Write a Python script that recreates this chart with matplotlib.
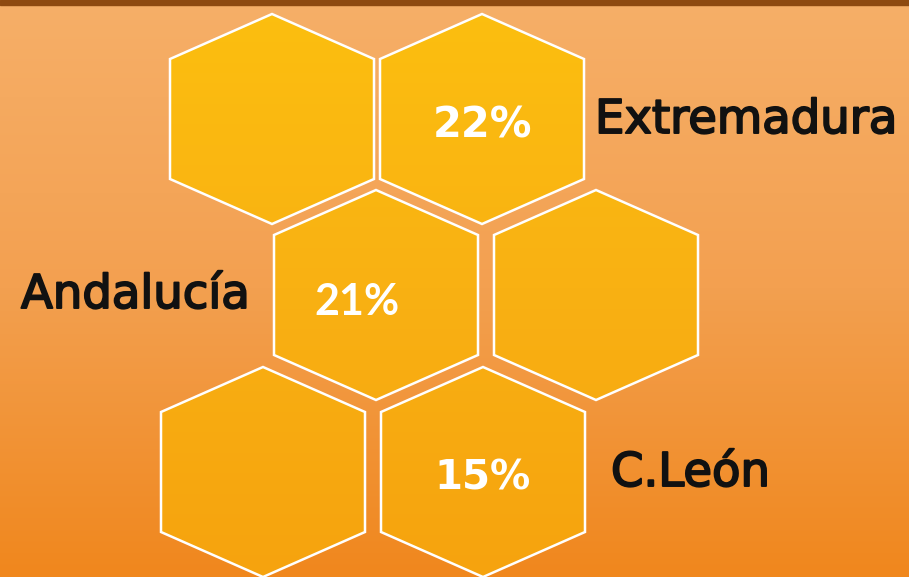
import numpy as np
import matplotlib.pyplot as plt
import matplotlib.patheffects as pe
from matplotlib.patches import Polygon
from matplotlib.colors import LinearSegmentedColormap

# Datos
regiones = ["Extremadura", "Andalucía", "C.León"]
valores = [22, 21, 15]
# celda (fila, columna) del panal donde va cada valor
celdas_valor = [(0, 1), (1, 0), (2, 1)]

# Panal: centros de cada hexágono por fila (px)
filas_y = [119, 295, 472]
filas_x = [[272, 482], [376, 596], [263, 483]]
hw, hh, hs = 102, 105, 60  # medio ancho, media altura, media altura del lado

W, H = 909, 577
fig = plt.figure(figsize=(W / 100, H / 100), dpi=100)
ax = fig.add_axes([0, 0, 1, 1])
ax.set_xlim(0, W)
ax.set_ylim(H, 0)
ax.axis("off")

# Fondo degradado
fondo = LinearSegmentedColormap.from_list("fondo", ["#F6AF68", "#F3A050", "#F0871D"])
grad = np.linspace(0, 1, 256).reshape(-1, 1)
ax.imshow(grad, cmap=fondo, extent=[0, W, H, 0], aspect="auto", zorder=0)
ax.axhspan(0, 4.5, color="#8E4A10", zorder=5)

cmap_hex = LinearSegmentedColormap.from_list("hex", ["#FCBF0F", "#F9B113", "#F6A30E"])


def hexagono(cx, cy):
    return [(cx, cy - hh), (cx + hw, cy - hs), (cx + hw, cy + hs),
            (cx, cy + hh), (cx - hw, cy + hs), (cx - hw, cy - hs)]


for fila, cy in enumerate(filas_y):
    for cx in filas_x[fila]:
        pts = hexagono(cx, cy)
        clip = Polygon(pts, closed=True, transform=ax.transData)
        im = ax.imshow(grad, cmap=cmap_hex, extent=[0, W, H, 0], aspect="auto", zorder=1)
        im.set_clip_path(clip)
        ax.add_patch(Polygon(pts, closed=True, fill=False, edgecolor="white",
                             linewidth=1.8, zorder=2))

# Porcentajes (línea base relativa al centro del hexágono)
ajustes = [(0, 18, "DejaVu Sans", 30), (-19, 20, "Lato", 31), (0, 18, "DejaVu Sans", 29)]
for (fila, col), v, (dx, dy, fam, fs) in zip(celdas_valor, valores, ajustes):
    ax.text(filas_x[fila][col] + dx, filas_y[fila] + dy, f"{v}%", color="white",
            fontsize=fs, fontweight="bold", family=fam, ha="center", va="baseline", zorder=3)

# Etiquetas de región
pos_etq = [(595, 133), (21, 308), (611, 486)]
for nombre, (x, y) in zip(regiones, pos_etq):
    ax.text(x, y, nombre, color="#111111", fontsize=33.5, family="DejaVu Sans",
            ha="left", va="baseline", zorder=3,
            path_effects=[pe.withStroke(linewidth=1.4, foreground="#111111")])

fig.savefig("out.png", dpi=100)
